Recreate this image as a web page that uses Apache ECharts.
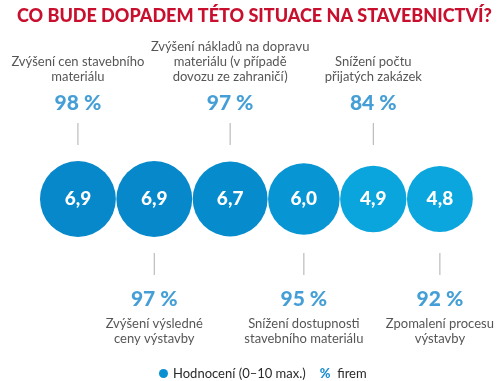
<!DOCTYPE html>
<html><head><meta charset="utf-8">
<script src="https://cdn.jsdelivr.net/npm/echarts@6/dist/echarts.min.js"></script>
<style>html,body{margin:0;padding:0;background:#fff}#c{width:501px;height:381px}</style>
</head><body><div id="c"></div>
<script>
// ---- data ----
const titleText = 'CO BUDE DOPADEM TÉTO SITUACE NA STAVEBNICTVÍ?';
const categories = [
  'Zvýšení cen stavebního\nmateriálu',
  'Zvýšení výsledné\nceny výstavby',
  'Zvýšení nákladů na dopravu\nmateriálu (v případě\ndovozu ze zahraničí)',
  'Snížení dostupnosti\nstavebního materiálu',
  'Snížení počtu\npřijatých zakázek',
  'Zpomalení procesu\nvýstavby'
];
const ratings = [6.9, 6.9, 6.7, 6.0, 4.9, 4.8];
const percentFirms = [98, 97, 97, 95, 84, 92];
const legendRating = 'Hodnocení (0–10 max.)';
const legendPercent = 'firem';

// ---- layout / style ----
const FONT = 'Lato';
const firstLeft = 40;
const rowCircle = 199;
const topPct = 103, botPct = 299;
const topCatBottom = 84.5, botCatTop = 316.5;
const topStem = 134, botStem = 264, stemLen = 22;
const diam = v => 43 + 4.76 * v;

const xs = [];
ratings.forEach((v, i) => {
  if (i === 0) xs.push(firstLeft + diam(v) / 2);
  else xs.push(xs[i - 1] + diam(ratings[i - 1]) / 2 + diam(v) / 2 + 0.5);
});
const isTop = i => i % 2 === 0;

const chart = echarts.init(document.getElementById('c'), null, {renderer: 'canvas'});
chart.setOption({
  animation: false,
  backgroundColor: '#fff',
  title: {
    text: titleText, left: 12, top: 2,
    textStyle: {color: '#c8102e', fontSize: 18, fontWeight: 900, fontFamily: FONT}
  },
  grid: {left: 0, right: 0, top: 0, bottom: 0},
  xAxis: {type: 'value', min: 0, max: 501, show: false},
  yAxis: {type: 'value', min: 0, max: 381, inverse: true, show: false},
  visualMap: {
    show: false, seriesIndex: 0, dimension: 2, min: 4.8, max: 6.9,
    inRange: {color: ['#0aa6dd', '#0688cb']}
  },
  legend: {
    top: 362, left: 154, selectedMode: false,
    itemWidth: 9, itemHeight: 9, itemGap: 0,
    textStyle: {fontFamily: FONT, fontSize: 13, color: '#2a2a2a',
      rich: {p: {color: '#1a8ccf', fontWeight: 900, fontSize: 13, fontFamily: FONT}}},
    data: [{name: legendRating, icon: 'circle', itemStyle: {color: '#0a8fd0'}},
           {name: legendPercent, icon: 'none'}],
    formatter: n => n === legendPercent ? '{p|%}  ' + n : n
  },
  series: [
    {
      name: legendRating, type: 'scatter',
      data: ratings.map((v, i) => [xs[i], rowCircle, v]),
      symbolSize: d => diam(d[2]),
      itemStyle: {opacity: 1},
      label: {show: true, position: 'inside', color: '#fff', fontWeight: 900,
        fontSize: 19, fontFamily: FONT,
        formatter: p => p.value[2].toFixed(1).replace('.', ',')},
      emphasis: {disabled: true}
    },
    {
      name: 'stems', type: 'scatter', symbol: 'rect', symbolSize: [1, stemLen],
      itemStyle: {color: '#9a9a9a'}, silent: true,
      data: ratings.map((v, i) => [xs[i], isTop(i) ? topStem : botStem])
    },
    {
      name: legendPercent, type: 'scatter', symbolSize: 0,
      itemStyle: {color: '#1a8ccf'},
      data: percentFirms.map((p, i) => [xs[i], isTop(i) ? topPct : botPct, p]),
      label: {show: true, position: 'inside', color: '#1787cc', fontWeight: 900,
        fontSize: 21, fontFamily: FONT, formatter: p => p.value[2] + ' %'},
      silent: true
    },
    {
      name: 'cats', type: 'scatter', symbolSize: 0, silent: true,
      data: categories.map((c, i) => ({
        value: [xs[i], isTop(i) ? topCatBottom : botCatTop],
        name: c,
        label: {verticalAlign: isTop(i) ? 'bottom' : 'top'}
      })),
      label: {show: true, position: 'inside', color: '#2a2a2a', fontSize: 13,
        lineHeight: 15, fontFamily: FONT, align: 'center', formatter: p => p.name}
    }
  ]
});
</script></body></html>
